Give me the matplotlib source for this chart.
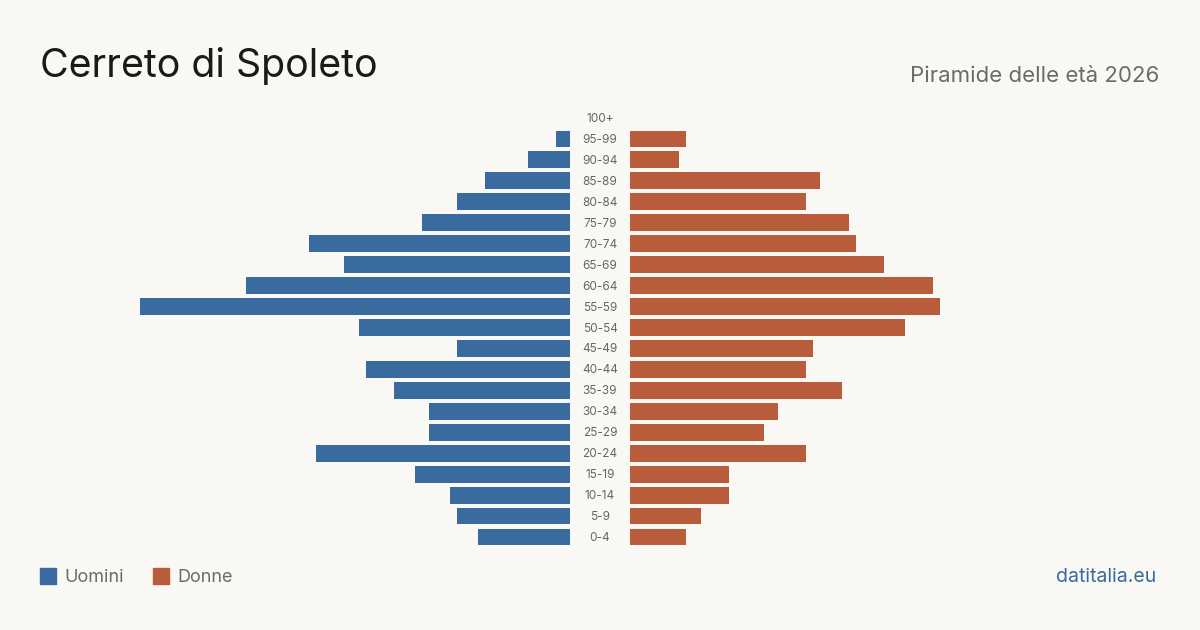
import numpy as np
import matplotlib.pyplot as plt
from matplotlib.patches import Rectangle

plt.rcParams['font.family'] = ['Inter', 'DejaVu Sans']

# classi di età dal basso verso l'alto
eta = ["0-4", "5-9", "10-14", "15-19", "20-24", "25-29", "30-34", "35-39",
       "40-44", "45-49", "50-54", "55-59", "60-64", "65-69", "70-74", "75-79",
       "80-84", "85-89", "90-94", "95-99", "100+"]
uomini = [13, 16, 17, 22, 36, 20, 20, 25, 29, 16, 30, 61, 46, 32, 37, 21, 16, 12, 6, 2, 0]
donne = [8, 10, 14, 14, 25, 19, 21, 30, 25, 26, 39, 44, 43, 36, 32, 31, 25, 27, 7, 8, 0]

bg = "#f9f8f4"
blu = "#3a6b9f"
rosso = "#b95c3c"

W, H = 1200, 630
fig = plt.figure(figsize=(12, 6.3), dpi=100, facecolor=bg)

px = 7.05  # pixel per unità
y0 = 1 - 547.5 / H
hh = 440 / H
larg = 470
axL = fig.add_axes([(570 - larg) / W, y0, larg / W, hh])
axR = fig.add_axes([630 / W, y0, larg / W, hh])
lim = larg / px

y = np.arange(len(eta))
axL.barh(y, uomini, height=0.8, color=blu)
axL.set_xlim(lim, 0)
axR.barh(y, donne, height=0.8, color=rosso)
axR.set_xlim(0, lim)
for ax in (axL, axR):
    ax.set_ylim(-0.5, len(eta) - 0.5)
    ax.axis("off")

for i, lab in enumerate(eta):
    fig.text(600 / W, y0 + hh * (i + 0.5) / len(eta) - 1 / H, lab, ha="center", va="center",
             fontsize=8.5, color="#666666")

fig.text(40 / W, 1 - 66 / H, "Cerreto di Spoleto", fontsize=28.3, color="#1a1a1a",
         ha="left", va="center")
fig.text(1159 / W, 1 - 76 / H, "Piramide delle età 2026", fontsize=16, color="#6b6b6b",
         ha="right", va="center")

# legenda
fig.patches.append(Rectangle((40 / W, 1 - 584 / H), 16 / W, 16 / H, color=blu,
                             transform=fig.transFigure))
fig.text(64 / W, 1 - 577 / H, "Uomini", fontsize=13, color="#6b6b6b", va="center")
fig.patches.append(Rectangle((153 / W, 1 - 584 / H), 16 / W, 16 / H, color=rosso,
                             transform=fig.transFigure))
fig.text(177 / W, 1 - 577 / H, "Donne", fontsize=13, color="#6b6b6b", va="center")

fig.text(1156 / W, 1 - 577 / H, "datitalia.eu", fontsize=14, color=blu,
         ha="right", va="center")

fig.savefig("out.png", dpi=100, facecolor=bg)
